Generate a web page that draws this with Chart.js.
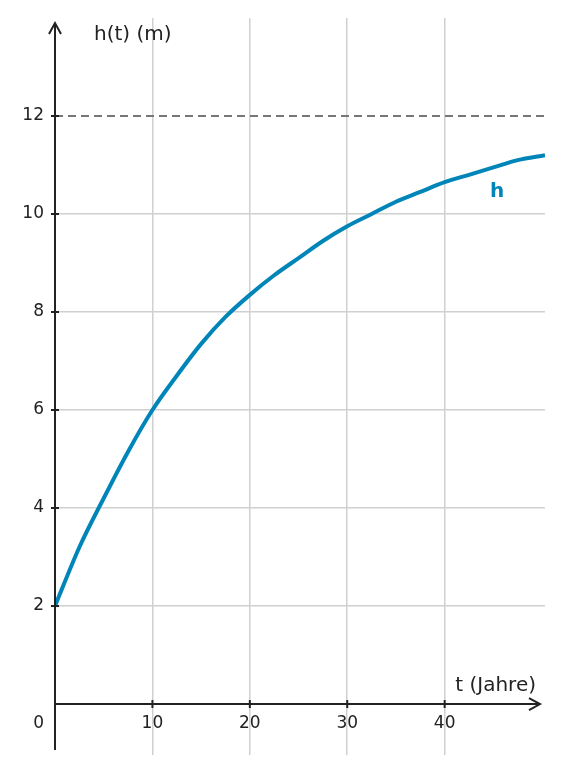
<!DOCTYPE html>
<html>
<head>
<meta charset="utf-8">
<script src="https://cdn.jsdelivr.net/npm/chart.js@4"></script>
<style>
  html, body { margin: 0; padding: 0; background: #fff; }
  #wrap { width: 563px; height: 773px; }
</style>
</head>
<body>
<div id="wrap"><canvas id="c" width="563" height="773"></canvas></div>
<script>
// values
const years = [0, 2.5, 5, 7.5, 10, 12.5, 15, 17.5, 20, 22.5, 25, 27.5, 30, 32.5, 35, 37.5, 40, 42.5, 45, 47.5, 50.3];
const heights = [2, 3.2, 4.2, 5.15, 6.0, 6.7, 7.35, 7.9, 8.35, 8.75, 9.1, 9.45, 9.75, 10.0, 10.25, 10.45, 10.65, 10.8, 10.95, 11.1, 11.2];
const xTicks = [10, 20, 30, 40];
const yTicks = [2, 4, 6, 8, 10, 12];
const limit = 12;

const ink = '#222';
const blue = '#0085b8';
const font = '17px "DejaVu Sans", sans-serif';

const axesPlugin = {
  id: 'axesPlugin',
  afterDraw(chart) {
    const { ctx, scales: { x, y } } = chart;
    const x0 = x.getPixelForValue(0), y0 = y.getPixelForValue(0);
    ctx.save();
    // dashed asymptote
    ctx.strokeStyle = '#777';
    ctx.lineWidth = 2;
    ctx.setLineDash([8, 5]);
    ctx.beginPath();
    ctx.moveTo(x0, y.getPixelForValue(limit));
    ctx.lineTo(x.right, y.getPixelForValue(limit));
    ctx.stroke();
    ctx.setLineDash([]);

    // axes
    ctx.strokeStyle = ink;
    ctx.lineWidth = 2;
    ctx.beginPath();
    ctx.moveTo(x0, 750); ctx.lineTo(x0, 24);
    ctx.moveTo(x0, y0); ctx.lineTo(539, y0);
    ctx.stroke();
    // arrows
    ctx.beginPath();
    ctx.moveTo(x0 - 6, 34); ctx.lineTo(x0, 23); ctx.lineTo(x0 + 6, 34);
    ctx.moveTo(529, y0 - 6); ctx.lineTo(540, y0); ctx.lineTo(529, y0 + 6);
    ctx.stroke();

    // ticks and labels
    ctx.fillStyle = ink;
    ctx.font = font;
    ctx.textAlign = 'center';
    ctx.textBaseline = 'middle';
    xTicks.forEach(v => {
      const px = x.getPixelForValue(v);
      ctx.beginPath(); ctx.moveTo(px, y0 - 4); ctx.lineTo(px, y0 + 4); ctx.stroke();
      ctx.fillText(String(v), px, 724);
    });
    ctx.textAlign = 'right';
    yTicks.forEach(v => {
      const py = y.getPixelForValue(v);
      ctx.beginPath(); ctx.moveTo(x0 - 4, py); ctx.lineTo(x0 + 4, py); ctx.stroke();
      ctx.fillText(String(v), 44, py);
    });
    ctx.fillText('0', 44, 724);

    ctx.textAlign = 'left';
    ctx.font = '20px "DejaVu Sans", sans-serif';
    ctx.fillText('h(t) (m)', 94, 35);
    ctx.textAlign = 'right';
    ctx.fillText('t (Jahre)', 536, 686);

    ctx.fillStyle = blue;
    ctx.font = 'bold 20px "DejaVu Sans", sans-serif';
    ctx.textAlign = 'center';
    ctx.fillText('h', 497, 192);
    ctx.restore();
  }
};

new Chart(document.getElementById('c'), {
  type: 'line',
  data: {
    datasets: [{
      data: years.map((t, i) => ({ x: t, y: heights[i] })),
      borderColor: blue,
      borderWidth: 4,
      pointRadius: 0,
      cubicInterpolationMode: 'monotone',
      fill: false
    }]
  },
  options: {
    responsive: false,
    animation: false,
    layout: { padding: { left: 55, right: 18, top: 18, bottom: 18 } },
    plugins: { legend: { display: false }, tooltip: { enabled: false } },
    scales: {
      x: {
        type: 'linear', min: 0, max: 50.3,
        afterBuildTicks: s => { s.ticks = xTicks.map(v => ({ value: v })); },
        ticks: { display: false },
        border: { display: false },
        grid: { color: '#d0d0d0', lineWidth: 1.5, drawTicks: false }
      },
      y: {
        type: 'linear', min: -1.04, max: 14,
        afterBuildTicks: s => { s.ticks = [2, 4, 6, 8, 10].map(v => ({ value: v })); },
        ticks: { display: false },
        border: { display: false },
        grid: { color: '#d0d0d0', lineWidth: 1.5, drawTicks: false }
      }
    }
  },
  plugins: [axesPlugin]
});
</script>
</body>
</html>
